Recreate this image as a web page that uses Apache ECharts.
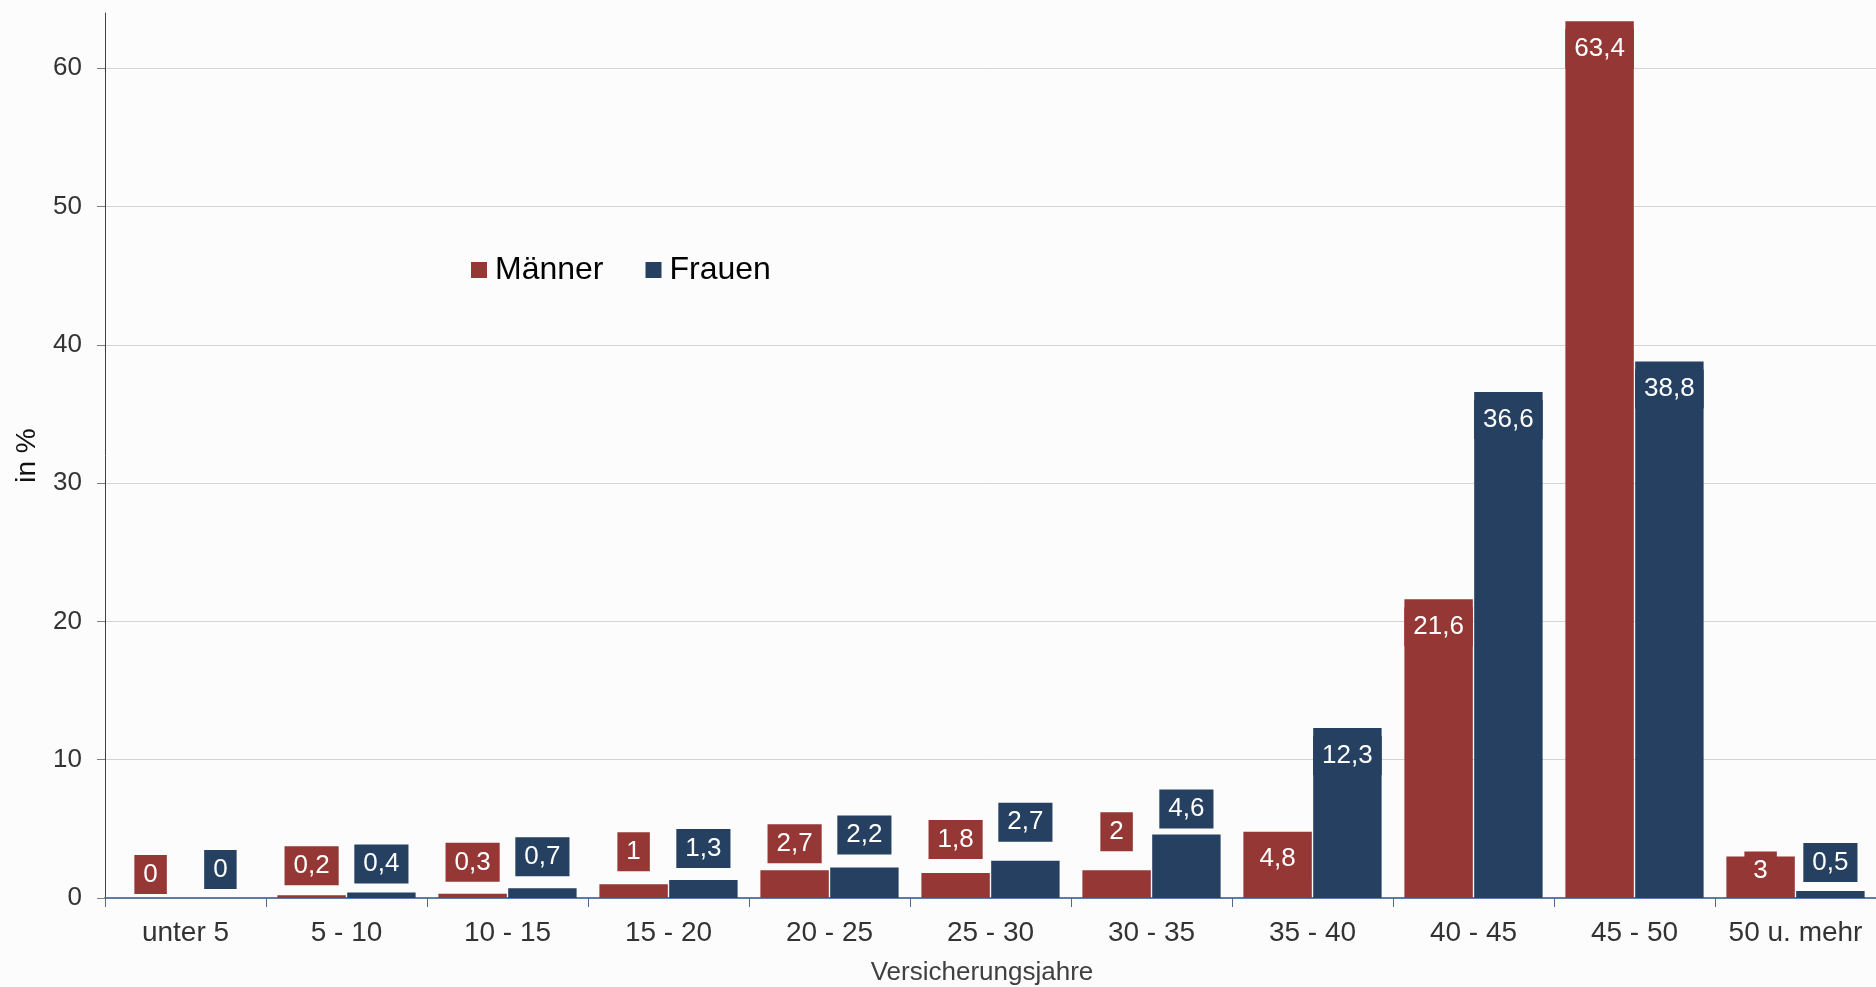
<!DOCTYPE html>
<html>
<head>
<meta charset="utf-8">
<script src="https://cdn.jsdelivr.net/npm/echarts@6/dist/echarts.min.js"></script>
<style>
html,body{margin:0;padding:0;background:#fcfcfc;}
#chart{width:1876px;height:987px;}
</style>
</head>
<body>
<div id="chart"></div>
<script>
// ---- data ----
const categories = ['unter 5', '5 - 10', '10 - 15', '15 - 20', '20 - 25', '25 - 30', '30 - 35', '35 - 40', '40 - 45', '45 - 50', '50 u. mehr'];
const maennerValues = [0, 0.2, 0.3, 1, 2.0, 1.8, 2, 4.8, 21.6, 63.4, 3];
const frauenValues  = [0, 0.4, 0.7, 1.3, 2.2, 2.7, 4.6, 12.3, 36.6, 38.8, 0.5];
const maennerLabels = ['0', '0,2', '0,3', '1', '2,7', '1,8', '2', '4,8', '21,6', '63,4', '3'];
const frauenLabels  = ['0', '0,4', '0,7', '1,3', '2,2', '2,7', '4,6', '12,3', '36,6', '38,8', '0,5'];
const yTicks = [0, 10, 20, 30, 40, 50, 60];

// ---- styling (label placement) ----
const FONT = 'Liberation Sans, Arial, sans-serif';
const RED = '#953735';
const BLUE = '#254061';
const maennerGaps = [4, 10, 12, 13, 7, 14, 19, 8, 8, 8, -5];
const frauenGaps  = [9, 9, 12, 12, 13, 19, 6, 8, 8, 8, 9];
const maennerInside = [false, false, false, false, false, false, false, true, true, true, true];
const frauenInside  = [false, false, false, false, false, false, false, true, true, true, false];

function buildItems(values, labels, gaps, insideFlags) {
  return values.map(function (v, i) {
    return {
      value: v,
      label: {
        formatter: labels[i],
        position: insideFlags[i] ? 'insideTop' : 'top',
        distance: gaps[i]
      }
    };
  });
}

function seriesLabel(color) {
  return {
    show: true,
    color: '#ffffff',
    backgroundColor: color,
    padding: [6, 9, 6, 9],
    fontSize: 26,
    lineHeight: 27,
    fontFamily: FONT
  };
}

const chart = echarts.init(document.getElementById('chart'), null, {renderer: 'canvas'});
chart.setOption({
  backgroundColor: '#fcfcfc',
  animation: false,
  textStyle: {fontFamily: FONT},
  legend: {
    left: 466,
    top: 249,
    icon: 'rect',
    itemWidth: 16,
    itemHeight: 16,
    itemGap: 42,
    textStyle: {fontSize: 32, color: '#000000', fontFamily: FONT, padding: [0, 0, 0, 3]},
    data: ['Männer', 'Frauen']
  },
  grid: {left: 105, right: 0, top: 13, bottom: 89, containLabel: false, outerBoundsMode: 'none'},
  xAxis: {
    type: 'category',
    data: categories,
    name: 'Versicherungsjahre',
    nameLocation: 'middle',
    nameGap: 62,
    nameTextStyle: {fontSize: 26, color: '#404040', fontFamily: FONT, padding: [0, 17, 0, 0]},
    axisLine: {show: true, lineStyle: {color: '#5a7dab', width: 2}},
    axisTick: {show: true, length: 9, lineStyle: {color: '#4a6a9a', width: 1}},
    axisLabel: {interval: 0, fontSize: 28, color: '#333333', margin: 21, fontFamily: FONT},
    splitLine: {show: false}
  },
  yAxis: {
    type: 'value',
    min: yTicks[0],
    max: 64,
    interval: 10,
    name: 'in %',
    nameLocation: 'middle',
    nameGap: 64,
    nameTextStyle: {fontSize: 28, color: '#111111', fontFamily: FONT},
    axisLine: {show: true, lineStyle: {color: '#404040', width: 1}},
    axisTick: {show: true, length: 8, lineStyle: {color: '#808080'}},
    axisLabel: {fontSize: 26, color: '#333333', margin: 23, showMaxLabel: false, fontFamily: FONT},
    splitLine: {show: true, showMaxLine: false, lineStyle: {color: '#d4d4d4', width: 1}}
  },
  series: [
    {
      name: 'Männer',
      type: 'bar',
      barWidth: '42.5%',
      barGap: '2%',
      itemStyle: {color: RED},
      label: seriesLabel(RED),
      data: buildItems(maennerValues, maennerLabels, maennerGaps, maennerInside)
    },
    {
      name: 'Frauen',
      type: 'bar',
      barWidth: '42.5%',
      barGap: '2%',
      itemStyle: {color: BLUE},
      label: seriesLabel(BLUE),
      data: buildItems(frauenValues, frauenLabels, frauenGaps, frauenInside)
    }
  ]
});
</script>
</body>
</html>
